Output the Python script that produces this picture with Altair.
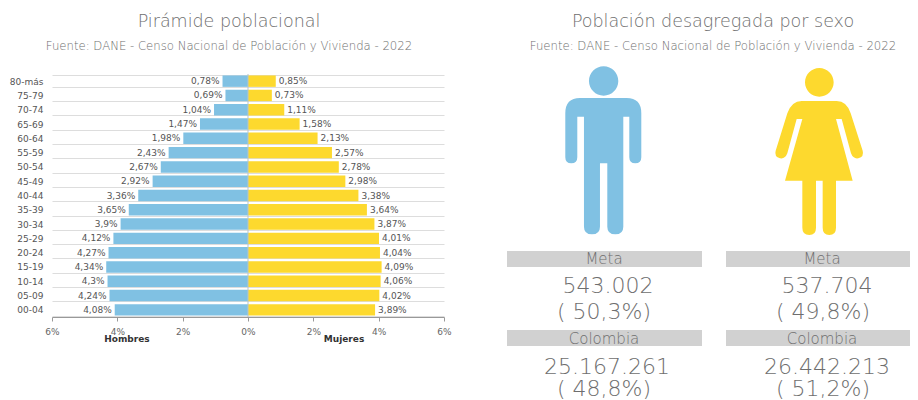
import re
import altair as alt
import pandas as pd

ages = ["80-más","75-79","70-74","65-69","60-64","55-59","50-54","45-49","40-44","35-39","30-34","25-29","20-24","15-19","10-14","05-09","00-04"]
hombres = [0.78,0.69,1.04,1.47,1.98,2.43,2.67,2.92,3.36,3.65,3.9,4.12,4.27,4.34,4.3,4.24,4.08]
mujeres = [0.85,0.73,1.11,1.58,2.13,2.57,2.78,2.98,3.38,3.64,3.87,4.01,4.04,4.09,4.06,4.02,3.89]
x_ticks = [-6,-4,-2,0,2,4,6]

BLUE = "#80C1E3"
YELLOW = "#FDD92E"
TXT = "#6E6E6E"
FONT = "DejaVu Sans"

def pct(v):
    return str(v).replace(".", ",") + "%"

df = pd.DataFrame({
    "age": ages,
    "h": [-v for v in hombres],
    "m": mujeres,
    "hl": [pct(v) for v in hombres],
    "ml": [pct(v) for v in mujeres],
})

OX, OY = 52, 74   # absolute position of plot origin

y = alt.Y("age:N", sort=ages, title=None,
          scale=alt.Scale(paddingInner=0.2, paddingOuter=0.1),
          axis=alt.Axis(tickBand="extent", grid=True, gridColor="#DDDDDD", gridWidth=1.2,
                        ticks=False, domain=False, labelFontSize=9, labelColor="#555555",
                        labelFont="DejaVu Sans", labelPadding=9))
xscale = alt.Scale(domain=[-6, 6], nice=False, zero=False)
xaxis = alt.Axis(values=x_ticks, grid=False, labelExpr="abs(datum.value) + '%'", labelFontSize=9,
                 labelColor="#666666", labelFont="DejaVu Sans", tickColor="#999999", domainColor="#999999",
                 tickSize=4, labelPadding=6, title=None, labelFlush=False)

base = alt.Chart(df)
bar_h = base.mark_bar(color=BLUE).encode(x=alt.X("h:Q", scale=xscale, axis=xaxis, stack=None), x2=alt.datum(0), y=y)
bar_m = base.mark_bar(color=YELLOW).encode(x=alt.X("m:Q", scale=xscale, stack=None), x2=alt.datum(0), y=y)
lab_h = base.mark_text(align="right", dx=-3, fontSize=9, font="DejaVu Sans", color="#555555").encode(
    x=alt.X("h:Q", scale=xscale), y=y, text="hl:N")
lab_m = base.mark_text(align="left", dx=3, fontSize=9, font="DejaVu Sans", color="#555555").encode(
    x=alt.X("m:Q", scale=xscale), y=y, text="ml:N")
zero = alt.Chart(pd.DataFrame({"v": [0]})).mark_rule(color="#B5C5CC", strokeWidth=1).encode(x=alt.X("v:Q", scale=xscale))

one = alt.Chart(pd.DataFrame({"a": [0]}))

def label(s, ax, ay, size, **kw):
    opts = dict(font=FONT, fontWeight=200, color=TXT, align="center", baseline="middle")
    opts.update(kw)
    return one.mark_text(text=s, fontSize=size, **opts).encode(x=alt.value(ax - OX), y=alt.value(ay - OY))

def box(x0, x1, y0, y1):
    return one.mark_rect(color="#D1D1D1").encode(
        x=alt.value(x0 - OX), x2=alt.value(x1 - OX), y=alt.value(y0 - OY), y2=alt.value(y1 - OY))

def unit(path, cx, cy, half=250.0):
    out, isx = [], True
    for t in re.findall(r"-?\d+\.?\d*|[A-Za-z]", path):
        if t.isalpha():
            out.append(t)
            isx = True
        else:
            v = (float(t) - (cx if isx else cy)) / half
            out.append(f"{v:.4f}")
            isx = not isx
    return " ".join(out)

def circle(cx, cy, r):
    k = 0.5523 * r
    return (f"M {cx-r} {cy} C {cx-r} {cy-k} {cx-k} {cy-r} {cx} {cy-r} C {cx+k} {cy-r} {cx+r} {cy-k} {cx+r} {cy} "
            f"C {cx+r} {cy+k} {cx+k} {cy+r} {cx} {cy+r} C {cx-k} {cy+r} {cx-r} {cy+k} {cx-r} {cy} Z ")

MAN = circle(311, 243, 44) + (
    "M 240 294 L 380 294 Q 424 294 424 340 L 424 472 Q 424 490 406 490 Q 388 490 388 472 L 388 350 L 370 350 "
    "L 370 680 Q 370 703 346 703 Q 322 703 322 680 L 322 490 L 300 490 L 300 680 Q 300 703 276 703 Q 252 703 252 680 "
    "L 252 350 L 232 350 L 232 472 Q 232 490 214 490 Q 196 490 196 472 L 196 340 Q 196 294 240 294 Z")
WOMAN = circle(958, 247, 43) + (
    "M 905 303 L 1010 303 Q 1040 303 1052 340 L 1088 452 Q 1093 470 1075 475 Q 1060 478 1053 460 L 1025 357 L 1008 357 "
    "L 1058 542 L 1008 542 L 1008 683 Q 1008 705 988 705 Q 968 705 968 683 L 968 542 L 948 542 L 948 683 Q 948 705 928 705 "
    "Q 907 705 907 683 L 907 542 L 855 542 L 907 357 L 890 357 L 862 460 Q 855 478 840 475 Q 822 470 827 452 L 862 340 "
    "Q 875 303 905 303 Z")

def icon(path, cx, cy, color, ax, ay):
    return one.mark_point(shape=unit(path, cx, cy), filled=True, opacity=1, color=color, size=(2 * 250 / 3) ** 2, strokeWidth=0).encode(
        x=alt.value(ax - OX), y=alt.value(ay - OY))

SUB = "Fuente: DANE - Censo Nacional de Población y Vivienda - 2022"

layers = [
    bar_h, bar_m, zero, lab_h, lab_m,
    label("Hombres", 127, 339, 9, fontWeight="bold", color="#333333"),
    label("Mujeres", 344, 339, 9, fontWeight="bold", color="#333333"),
    label("Pirámide poblacional", 229, 22, 17.5),
    label(SUB, 229, 46, 11.7),
    label("Población desagregada por sexo", 713, 22, 17.5),
    label(SUB, 713, 46, 11.7),
    icon(MAN, 310, 452.5, BLUE, 603.3, 150.8),
    icon(WOMAN, 957, 455.5, YELLOW, 819, 151.8),
    box(507, 702, 251, 267), box(726, 918, 251, 267),
    box(507, 702, 330, 346), box(726, 918, 330, 346),
    label("Meta", 604, 259, 15), label("Meta", 822, 259, 15),
    label("Colombia", 604, 339, 15), label("Colombia", 822, 339, 15),
    label("543.002", 608, 286, 22), label("( 50,3%)", 604, 312, 22),
    label("537.704", 827, 286, 22), label("( 49,8%)", 823, 312, 22),
    label("25.167.261", 607, 367, 22), label("( 48,8%)", 604, 389, 22),
    label("26.442.213", 827, 367, 22), label("( 51,2%)", 823, 389, 22),
]

WIDTH_TOTAL = 902
HEIGHT_TOTAL = 392
chart = alt.layer(*layers).properties(
    width=392, height=243,
    autosize=alt.AutoSizeParams(type="none"),
    padding={"left": OX - 8, "top": OY - 8, "right": WIDTH_TOTAL - (OX - 8) - 392, "bottom": HEIGHT_TOTAL - (OY - 8) - 243},
).configure_view(stroke=None)

chart.save("out.html", embed_options={"renderer": "svg", "actions": False})
